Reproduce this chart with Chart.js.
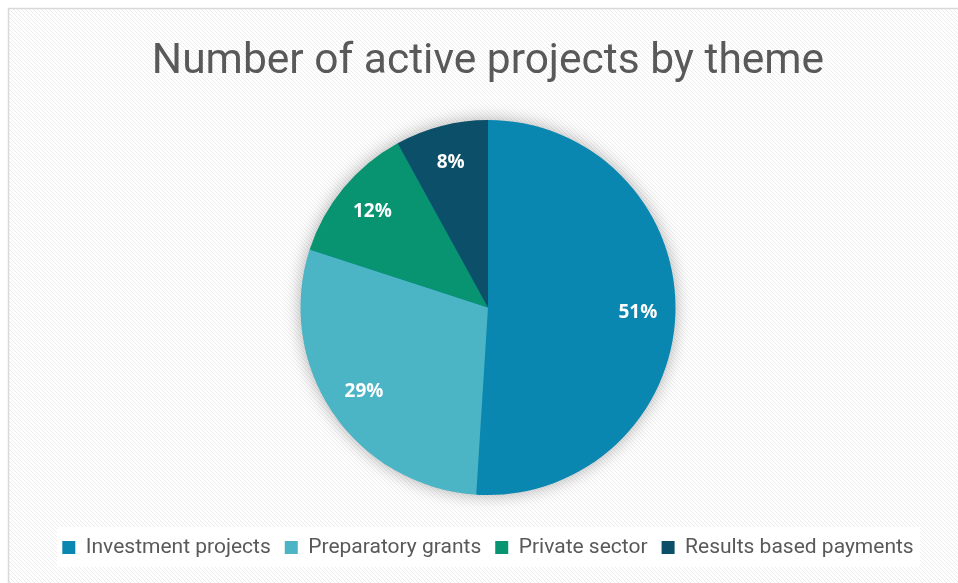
<!DOCTYPE html>
<html>
<head>
<meta charset="utf-8">
<script src="https://cdn.jsdelivr.net/npm/chart.js@4"></script>
<style>
  html, body { margin: 0; padding: 0; background: #fff; }
  #wrap { width: 958px; height: 583px; }
</style>
</head>
<body>
<div id="wrap"><canvas id="pieChart" width="958" height="583"></canvas></div>
<script>
const themes = ['Investment projects', 'Preparatory grants', 'Private sector', 'Results based payments']
const shares = [51, 29, 12, 8]
const sliceColors = ['#0a87b0', '#4bb4c5', '#089470', '#0b4f69']

// diagonal stripes like the excel chart fill
const stripes = () => {
  const c = document.createElement('canvas')
  c.width = 4; c.height = 4
  const g = c.getContext('2d')
  g.fillStyle = '#ffffff'
  g.fillRect(0, 0, 4, 4)
  g.fillStyle = '#ededed'
  for (let i = 0; i < 4; i++) g.fillRect(i, i, 1, 1)
  return g.createPattern(c, 'repeat')
}

const backdrop = {
  id: 'backdrop',
  beforeDraw(chart) {
    const ctx = chart.ctx
    ctx.save()
    ctx.fillStyle = '#ffffff'
    ctx.fillRect(0, 0, chart.width, chart.height)
    ctx.fillStyle = stripes()
    ctx.fillRect(9, 9, chart.width, chart.height)
    ctx.strokeStyle = '#d9d9d9'
    ctx.lineWidth = 1.5
    ctx.strokeRect(8.5, 8.5, chart.width + 10, chart.height + 10)
    // white box behind the legend
    ctx.fillStyle = '#ffffff'
    ctx.fillRect(57, 527, 863, 40)
    ctx.restore()
  },
  beforeDatasetsDraw(chart) {
    const arc = chart.getDatasetMeta(0).data[0]
    if (!arc) return
    const ctx = chart.ctx
    ctx.save()
    ctx.shadowColor = 'rgba(0,0,0,0.35)'
    ctx.shadowBlur = 18
    ctx.fillStyle = '#0a87b0'
    ctx.beginPath()
    ctx.arc(arc.x, arc.y, arc.outerRadius - 1, 0, Math.PI * 2)
    ctx.fill()
    ctx.restore()
  }
}

const pctLabels = {
  id: 'pctLabels',
  afterDatasetsDraw(chart) {
    const ctx = chart.ctx
    const total = shares.reduce((a, b) => a + b, 0)
    ctx.save()
    ctx.fillStyle = '#ffffff'
    ctx.font = 'bold 19px "Open Sans"'
    ctx.textAlign = 'center'
    ctx.textBaseline = 'middle'
    chart.getDatasetMeta(0).data.forEach((arc, i) => {
      const mid = (arc.startAngle + arc.endAngle) / 2
      const r = arc.outerRadius * 0.8
      const txt = Math.round(shares[i] / total * 100) + '%'
      ctx.fillText(txt, arc.x + Math.cos(mid) * r, arc.y + Math.sin(mid) * r)
    })
    ctx.restore()
  }
}

const ctx = document.getElementById('pieChart')
const myChart = new Chart(ctx, {
  type: 'pie',
  data: {
    labels: themes,
    datasets: [{
      data: shares,
      backgroundColor: sliceColors,
      borderWidth: 0
    }]
  },
  options: {
    responsive: false,
    animation: false,
    layout: { padding: { left: 18, top: 0, right: 0, bottom: 15 } },
    plugins: {
      tooltip: { enabled: false },
      title: {
        display: true,
        text: 'Number of active projects by theme',
        color: '#595959',
        font: { family: 'Roboto', size: 42.5, weight: 'normal' },
        padding: { top: 37, bottom: 32 }
      },
      legend: {
        position: 'bottom',
        // empty title only used as spacer between pie and legend row
        title: { display: true, text: ' ', font: { size: 20 }, padding: 2 },
        labels: {
          color: '#595959',
          font: { family: 'Roboto', size: 21 },
          boxWidth: 13,
          boxHeight: 13,
          padding: 14
        }
      }
    }
  },
  plugins: [backdrop, pctLabels]
})
</script>
</body>
</html>
